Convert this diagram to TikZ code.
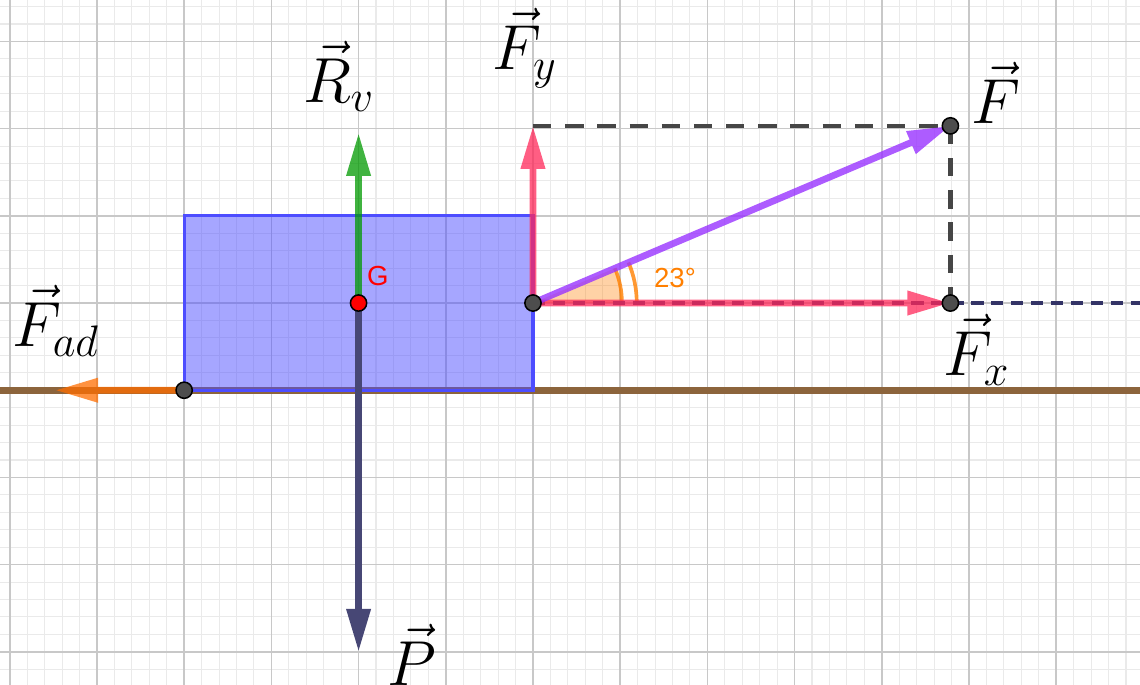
\documentclass[tikz,border=0pt]{standalone}
\usepackage{fontspec}
\newfontfamily\ggbsans{Liberation Sans}
\usetikzlibrary{arrows.meta}
\definecolor{gridmajor}{RGB}{200,200,200}
\definecolor{gridminor}{RGB}{234,234,234}
\definecolor{blockblue}{RGB}{77,77,255}
\definecolor{groundbrown}{RGB}{140,100,60}
\definecolor{fadorange}{RGB}{255,110,0}
\definecolor{pnavy}{RGB}{51,51,102}
\definecolor{rvgreen}{RGB}{0,153,0}
\definecolor{fpink}{RGB}{255,40,90}
\definecolor{fpurple}{RGB}{153,51,255}
\definecolor{angorange}{RGB}{255,127,0}
\definecolor{dashgray}{RGB}{70,70,70}
\definecolor{ptgray}{RGB}{77,77,77}

\tikzset{
  vecarrow/.style={line width=2.2pt, -{Triangle[length=14pt,width=7.5pt]}},
  pt/.style={circle, fill=ptgray, draw=black, line width=0.5pt, inner sep=0pt, minimum size=5.3pt},
  lab/.style={inner sep=0pt, font=\fontsize{20}{24}\selectfont},
  guide/.style={dashgray, line width=1.5pt, dash pattern=on 6pt off 4.5pt},
}

\begin{document}
\begin{tikzpicture}
        \useasboundingbox (-6.112,-4.369) rectangle (6.961,3.475);
        \clip (-6.112,-4.369) rectangle (6.961,3.475);
        % Grid
        \draw[gridminor, line width=0.35pt] (-6.2,-4.4) grid[step=0.2] (7,3.6);
        \draw[gridmajor, line width=0.5pt] (-6.2,-4.4) grid[step=1] (7,3.6);
        % Points
        \coordinate (A) at (0,0);
        \coordinate (G) at (-2,0);
        \coordinate (B) at (-4,-1);
        \coordinate (F) at (23:5.2);
        \coordinate (Fx) at (F |- A);
        \coordinate (Fy) at (A |- F);
        \coordinate (Rv) at (-2,1.95);
        \coordinate (P) at (-2,-4);
        \coordinate (Fad) at (-5.48,-1);
        \coordinate (east) at (7.2,0);
        \coordinate (groundW) at (-6.3,-1);
        \coordinate (groundE) at (7.2,-1);
        % Ground and block
        \draw[groundbrown, line width=2.3pt] (groundW) -- (groundE);
        \fill[blockblue, fill opacity=0.5] (B) rectangle (0,1);
        \draw[blockblue, line width=1pt] (B) rectangle (0,1);
        % Angle
        \fill[angorange, fill opacity=0.35] (A) -- (1.02,0) arc[start angle=0, end angle=23, radius=1.02] -- cycle;
        \draw[angorange, line width=1.2pt, opacity=0.8] (1.02,0) arc[start angle=0, end angle=23, radius=1.02];
        \draw[angorange, line width=1.2pt, opacity=0.8] (1.19,0) arc[start angle=0, end angle=23, radius=1.19];
        % Guides
        \draw[pnavy, line width=1pt, dash pattern=on 4pt off 2.5pt] (A) -- (east);
        \draw[guide] (Fy) -- (F);
        \draw[guide] (F) -- (Fx);
        % Vectors
        \draw[vecarrow, pnavy!90!white] (G) -- (P);
        \begin{scope}[transparency group, opacity=0.75]
          \draw[vecarrow, fadorange] (B) -- (Fad);
          \draw[vecarrow, rvgreen] (G) -- (Rv);
        \end{scope}
        \begin{scope}[transparency group, opacity=0.75]
          \draw[vecarrow, fpink] (A) -- (Fy);
          \draw[vecarrow, fpink] (A) -- (Fx);
        \end{scope}
        \begin{scope}[transparency group, opacity=0.8]
          \draw[vecarrow, fpurple] (A) -- (F);
        \end{scope}
        % Dots
        \node[pt] (a) at (A) {};
        \node[pt] (b) at (B) {};
        \node[pt] (f) at (F) {};
        \node[pt] (fx) at (Fx) {};
        \node[pt, fill=red] (g) at (G) {};
        % Labels
        \node[lab] (lRv) at (-2.225,2.60) {$\vec{R}_v$};
        \node[lab] (lFy) at (-0.092,2.924) {$\vec{F}_y$};
        \node[lab] (lF) at (5.31,2.408) {$\vec{F}$};
        \node[lab] (lFx) at (5.09,-0.539) {$\vec{F}_x$};
        \node[lab] (lFad) at (-5.47,-0.206) {$\vec{F}_{ad}$};
        \node[lab] (lP) at (-1.388,-4.03) {$\vec{P}$};
        \node[font=\ggbsans\fontsize{9}{11}\selectfont, red, inner sep=0pt] (lG) at (-1.778,0.31) {G};
        \node[font=\ggbsans\fontsize{9}{11}\selectfont, angorange, inner sep=0pt] (lang) at (1.628,0.287) {23°};
      \end{tikzpicture}
\end{document}
